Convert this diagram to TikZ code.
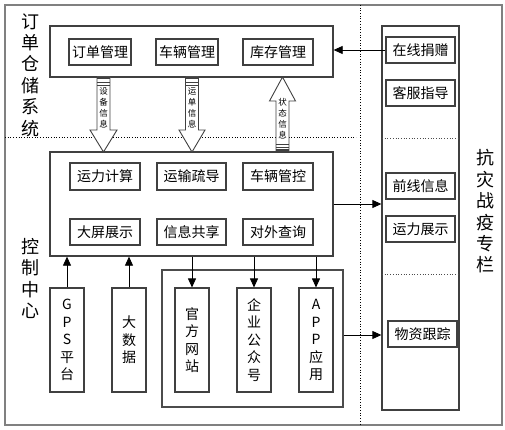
\documentclass[tikz,border=0pt]{standalone}
\usepackage{fontspec}
\setmainfont{Noto Sans CJK SC}
\usetikzlibrary{arrows.meta}
\begin{document}
\begin{tikzpicture}[x=1pt,y=-1pt,
  box/.style={draw=black!75, line width=1.1pt, fill=white, inner sep=0pt, minimum height=26pt,
    font=\fontsize{14}{16}\selectfont},
  frame/.style={draw=black!75, line width=1.3pt, inner sep=0pt},
  vbox/.style={draw=black!75, line width=1.1pt, fill=white, inner sep=0pt, minimum width=34pt,
    minimum height=104pt, align=center, font=\fontsize{14}{17.5}\selectfont},
  title/.style={inner sep=0pt, align=center, font=\fontsize{18}{21.4}\selectfont},
  blab/.style={inner sep=0pt, align=center, font=\fontsize{8.5}{11}\selectfont},
  con/.style={line width=0.8pt, draw=black, -{Triangle[length=9pt,width=8pt]}},
  barrow/.style={draw=black!75, line width=0.9pt, fill=white},
  dots/.style={dotted, line width=0.7pt, draw=black}
]
\useasboundingbox (0,0) rectangle (505,430);
% outer frame and separators
\draw[draw=black!50, line width=1.4pt] (5,5) rectangle (502,425);
\coordinate (vtop) at (360,5);
\coordinate (vbot) at (360,425);
\draw[dots] (vtop) -- (vbot);
\coordinate (hl) at (5,137);
\coordinate (hr) at (356,137);
\draw[dots] (hl) -- (hr);

% top: order/storage
\node[frame, minimum width=283pt, minimum height=51pt] (top) at (191.5,51.5) {};
\node[box, minimum width=62pt] (dd) at (100,52) {订单管理};
\node[box, minimum width=62pt] (cl) at (187,52) {车辆管理};
\node[box, minimum width=70pt] (kc) at (278,52) {库存管理};

% middle: control
\node[frame, minimum width=283pt, minimum height=104pt] (mid) at (191.5,204) {};
\node[box, minimum width=70pt, minimum height=27pt] (ylj) at (105,176.5) {运力计算};
\node[box, minimum width=69pt, minimum height=27pt] (ysd) at (191.5,176.5) {运输疏导};
\node[box, minimum width=70pt, minimum height=27pt] (clk) at (278,176.5) {车辆管控};
\node[box, minimum width=70pt] (dpz) at (105,232) {大屏展示};
\node[box, minimum width=69pt] (xxg) at (191.5,232) {信息共享};
\node[box, minimum width=70pt] (dwc) at (278,232) {对外查询};

% bottom boxes
\node[vbox] (gps) at (67,340) {G\\P\\S\\平\\台};
\node[vbox] (dsj) at (129,340) {大\\数\\据};
\node[draw=black!70, line width=1.2pt, inner sep=0pt, minimum width=181pt, minimum height=137pt] (grp) at (252.5,338.5) {};
\node[vbox] (gw) at (192,340) {官\\方\\网\\站};
\node[vbox] (qy) at (254,340) {企\\业\\公\\众\\号};
\node[vbox] (app) at (316,340) {A\\P\\P\\应\\用};

% right column
\node[frame, minimum width=77pt, minimum height=384pt] (col) at (420.5,218) {};
\coordinate (c1l) at (382,138);
\coordinate (c1r) at (459,138);
\coordinate (c2l) at (382,274);
\coordinate (c2r) at (459,274);
\draw[dotted, line width=0.7pt, draw=black!70] (c1l) -- (c1r);
\draw[dotted, line width=0.7pt, draw=black!70] (c2l) -- (c2r);
\node[box, minimum width=69pt] (zx) at (420.5,50) {在线捐赠};
\node[box, minimum width=69pt] (kf) at (420.5,93) {客服指导};
\node[box, minimum width=69pt] (qx) at (420.5,186) {前线信息};
\node[box, minimum width=69pt] (ylz) at (420.5,229) {运力展示};
\node[box, minimum width=69pt] (wz) at (422.5,334) {物资跟踪};

% titles
\node[title] (t1) at (30,75) {订\\单\\仓\\储\\系\\统};
\node[title] (t2) at (30,278.5) {控\\制\\中\\心};
\node[title] (t3) at (485,211.5) {抗\\灾\\战\\疫\\专\\栏};

% block arrows
\draw[barrow] (97,77) -- (110,77) -- (110,130) -- (117,130) -- (103.5,152) -- (90,130) -- (97,130) -- cycle;
\fill[black!75] (97,77) rectangle (110,79.5);
\draw[black!75, line width=0.7pt] (97,82.5) -- (110,82.5) (97,85) -- (110,85);
\node[blab] (a1) at (103.5,107.5) {设\\备\\信\\息};

\draw[barrow] (185.5,77) -- (198.5,77) -- (198.5,130) -- (205,130) -- (192,152) -- (179,130) -- (185.5,130) -- cycle;
\fill[black!75] (185.5,77) rectangle (198.5,79.5);
\draw[black!75, line width=0.7pt] (185.5,82.5) -- (198.5,82.5) (185.5,85) -- (198.5,85);
\node[blab] (a2) at (192,107.5) {运\\单\\信\\息};

\draw[barrow] (276,152) -- (289,152) -- (289,101) -- (295.5,101) -- (282.5,77) -- (269.5,101) -- (276,101) -- cycle;
\fill[black!75] (276,149.5) rectangle (289,152);
\draw[black!75, line width=0.7pt] (276,144.5) -- (289,144.5) (276,147) -- (289,147);
\node[blab] (a3) at (282.5,118.5) {状\\态\\信\\息};

% connectors
\draw[con] (zx.west) -- (zx.west -| top.east);
\draw[con] (mid.east) -- (mid.east -| col.west);
\draw[con] ([yshift=3.5pt]grp.east) -- ([yshift=3.5pt]grp.east -| col.west);
\draw[con] (gps.north) -- (gps.north |- mid.south);
\draw[con] (dsj.north) -- (dsj.north |- mid.south);
\draw[con] (gw.north |- mid.south) -- (gw.north);
\draw[con] (qy.north |- mid.south) -- (qy.north);
\draw[con] (app.north |- mid.south) -- (app.north);
\end{tikzpicture}
\end{document}
